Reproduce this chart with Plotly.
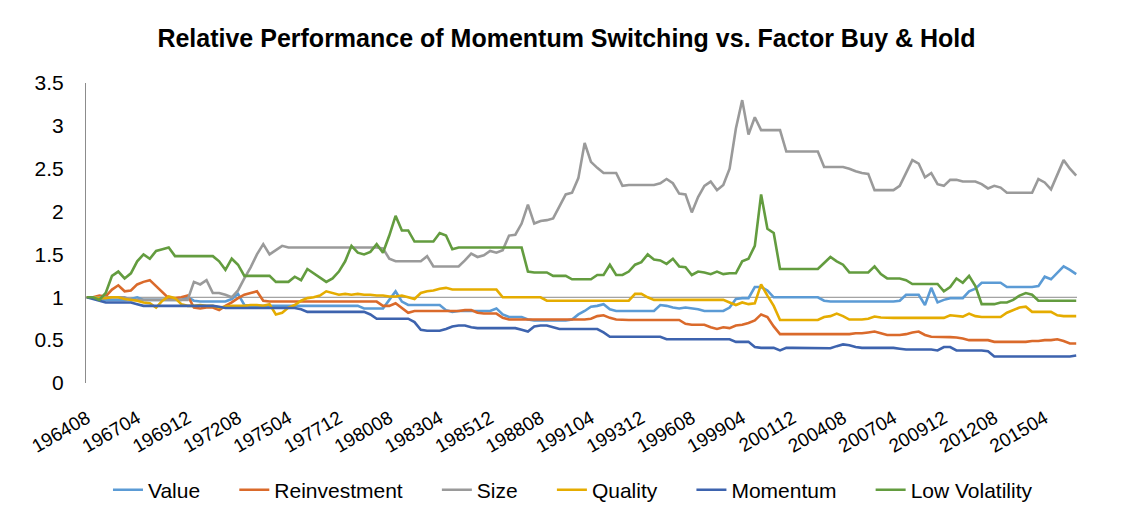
import plotly.graph_objects as go

# ---- categories (monthly, YYYYMM) ----
start_year, start_month, n_months = 1964, 8, 629
months = []
y, m = start_year, start_month
for _ in range(n_months):
    months.append(f"{y}{m:02d}")
    m += 1
    if m > 12:
        m = 1
        y += 1

# series every 4 months
sample_months = months[::4]

tick_labels = ["196408", "196704", "196912", "197208", "197504", "197712", "198008",
               "198304", "198512", "198808", "199104", "199312", "199608", "199904",
               "200112", "200408", "200704", "200912", "201208", "201504"]

value = [
    1.00, 0.99, 0.98, 0.97, 0.97, 0.97, 0.97, 0.98, 1.00, 0.97,
    0.97, 0.97, 0.97, 0.97, 0.97, 0.97, 1.00, 0.96, 0.95, 0.95,
    0.95, 0.95, 0.95, 0.98, 1.04, 0.91, 0.90, 0.90, 0.90, 0.90,
    0.90, 0.90, 0.90, 0.90, 0.90, 0.90, 0.90, 0.90, 0.90, 0.90,
    0.90, 0.90, 0.90, 0.90, 0.87, 0.87, 0.87, 0.87, 0.97, 1.07,
    0.95, 0.91, 0.91, 0.91, 0.91, 0.91, 0.91, 0.85, 0.83, 0.84,
    0.84, 0.84, 0.84, 0.84, 0.84, 0.87, 0.80, 0.77, 0.77, 0.77,
    0.74, 0.73, 0.73, 0.73, 0.73, 0.73, 0.73, 0.74, 0.80, 0.84,
    0.89, 0.90, 0.92, 0.86, 0.84, 0.84, 0.84, 0.84, 0.84, 0.84,
    0.84, 0.91, 0.90, 0.88, 0.87, 0.88, 0.87, 0.86, 0.84, 0.84,
    0.84, 0.84, 0.88, 0.98, 0.99, 0.99, 1.12, 1.12, 1.08, 1.00,
    1.00, 1.00, 1.00, 1.00, 1.00, 1.00, 1.00, 0.96, 0.95, 0.95,
    0.95, 0.95, 0.95, 0.95, 0.95, 0.95, 0.95, 0.95, 0.95, 0.96,
    1.03, 1.03, 1.03, 0.91, 1.11, 0.94, 0.97, 0.99, 0.99, 0.99,
    1.07, 1.10, 1.17, 1.17, 1.17, 1.17, 1.12, 1.12, 1.12, 1.12,
    1.12, 1.13, 1.24, 1.21, 1.29, 1.36, 1.32, 1.27]

reinvestment = [
    1.00, 1.00, 1.02, 1.01, 1.09, 1.14, 1.07, 1.08, 1.15, 1.18,
    1.20, 1.13, 1.05, 0.99, 0.99, 1.00, 1.02, 0.88, 0.87, 0.88,
    0.88, 0.85, 0.90, 0.94, 0.99, 1.03, 1.05, 1.07, 0.96, 0.95,
    0.95, 0.95, 0.95, 0.95, 0.95, 0.95, 0.95, 0.95, 0.95, 0.95,
    0.95, 0.95, 0.95, 0.95, 0.95, 0.95, 0.95, 0.90, 0.90, 0.93,
    0.87, 0.82, 0.84, 0.84, 0.84, 0.84, 0.84, 0.84, 0.84, 0.84,
    0.85, 0.85, 0.82, 0.81, 0.81, 0.81, 0.76, 0.74, 0.74, 0.74,
    0.74, 0.74, 0.74, 0.74, 0.74, 0.74, 0.74, 0.74, 0.74, 0.74,
    0.75, 0.78, 0.79, 0.76, 0.74, 0.735, 0.735, 0.735, 0.735, 0.735,
    0.735, 0.735, 0.735, 0.735, 0.735, 0.69, 0.68, 0.68, 0.68, 0.65,
    0.63, 0.65, 0.64, 0.67, 0.68, 0.70, 0.73, 0.80, 0.77, 0.66,
    0.57, 0.57, 0.57, 0.57, 0.57, 0.57, 0.57, 0.57, 0.57, 0.57,
    0.57, 0.57, 0.58, 0.58, 0.59, 0.60, 0.58, 0.56, 0.56, 0.56,
    0.57, 0.59, 0.60, 0.56, 0.54, 0.54, 0.54, 0.535, 0.53, 0.52,
    0.50, 0.50, 0.50, 0.50, 0.48, 0.48, 0.48, 0.48, 0.48, 0.48,
    0.49, 0.49, 0.50, 0.50, 0.51, 0.49, 0.46, 0.46]

size = [
    1.00, 1.00, 1.00, 1.00, 1.00, 1.00, 1.00, 0.97, 0.97, 0.97,
    0.97, 0.97, 0.97, 0.97, 0.97, 0.97, 0.97, 1.18, 1.15, 1.20,
    1.05, 1.05, 1.03, 1.00, 1.08, 1.22, 1.35, 1.50, 1.62, 1.50,
    1.55, 1.60, 1.58, 1.58, 1.58, 1.58, 1.58, 1.58, 1.58, 1.58,
    1.58, 1.58, 1.58, 1.58, 1.58, 1.58, 1.58, 1.57, 1.45, 1.42,
    1.42, 1.42, 1.42, 1.42, 1.48, 1.36, 1.36, 1.36, 1.36, 1.36,
    1.43, 1.51, 1.47, 1.49, 1.54, 1.52, 1.55, 1.72, 1.73, 1.86,
    2.08, 1.86, 1.89, 1.90, 1.92, 2.06, 2.20, 2.22, 2.39, 2.80,
    2.58, 2.51, 2.45, 2.45, 2.45, 2.30, 2.31, 2.31, 2.31, 2.31,
    2.31, 2.33, 2.38, 2.33, 2.21, 2.20, 1.99, 2.17, 2.30, 2.35,
    2.25, 2.31, 2.50, 2.97, 3.30, 2.90, 3.10, 2.95, 2.95, 2.95,
    2.95, 2.70, 2.70, 2.70, 2.70, 2.70, 2.70, 2.52, 2.52, 2.52,
    2.52, 2.50, 2.47, 2.45, 2.44, 2.25, 2.25, 2.25, 2.25, 2.30,
    2.45, 2.60, 2.56, 2.40, 2.45, 2.32, 2.30, 2.37, 2.37, 2.35,
    2.35, 2.35, 2.32, 2.27, 2.30, 2.28, 2.22, 2.22, 2.22, 2.22,
    2.22, 2.38, 2.34, 2.26, 2.42, 2.60, 2.50, 2.42]

quality = [
    1.00, 1.00, 0.99, 0.99, 1.00, 1.00, 0.98, 0.97, 0.96, 0.94,
    0.93, 0.88, 0.96, 1.01, 0.99, 0.92, 0.90, 0.90, 0.91, 0.90,
    0.90, 0.88, 0.89, 0.90, 0.90, 0.90, 0.91, 0.91, 0.90, 0.92,
    0.80, 0.82, 0.88, 0.91, 0.96, 0.99, 1.00, 1.02, 1.07, 1.05,
    1.03, 1.04, 1.03, 1.04, 1.03, 1.03, 1.02, 1.02, 1.01, 1.01,
    1.02, 1.00, 0.98, 1.05, 1.07, 1.08, 1.10, 1.11, 1.09, 1.09,
    1.09, 1.09, 1.09, 1.09, 1.09, 1.09, 1.00, 1.00, 1.00, 1.00,
    1.00, 1.00, 1.00, 0.96, 0.96, 0.96, 0.96, 0.96, 0.96, 0.96,
    0.96, 0.96, 0.96, 0.96, 0.96, 0.96, 0.96, 1.04, 1.04, 1.00,
    0.97, 0.97, 0.97, 0.97, 0.97, 0.97, 0.97, 0.97, 0.97, 0.97,
    0.97, 0.97, 0.94, 0.91, 0.94, 0.92, 0.93, 1.15, 1.02, 0.90,
    0.735, 0.735, 0.735, 0.735, 0.735, 0.735, 0.735, 0.77, 0.78, 0.81,
    0.78, 0.74, 0.74, 0.74, 0.75, 0.775, 0.765, 0.76, 0.76, 0.76,
    0.76, 0.76, 0.76, 0.76, 0.76, 0.76, 0.76, 0.79, 0.78, 0.775,
    0.81, 0.78, 0.77, 0.77, 0.77, 0.77, 0.82, 0.85, 0.88, 0.89,
    0.83, 0.83, 0.83, 0.83, 0.79, 0.78, 0.78, 0.78]

momentum = [
    1.00, 0.98, 0.96, 0.94, 0.94, 0.94, 0.94, 0.94, 0.92, 0.90,
    0.90, 0.90, 0.90, 0.90, 0.90, 0.90, 0.90, 0.90, 0.90, 0.90,
    0.90, 0.89, 0.875, 0.875, 0.875, 0.875, 0.875, 0.875, 0.875, 0.875,
    0.875, 0.875, 0.875, 0.875, 0.86, 0.83, 0.83, 0.83, 0.83, 0.83,
    0.83, 0.83, 0.83, 0.83, 0.83, 0.80, 0.75, 0.75, 0.75, 0.75,
    0.75, 0.75, 0.71, 0.62, 0.61, 0.61, 0.61, 0.63, 0.66, 0.67,
    0.67, 0.65, 0.64, 0.64, 0.64, 0.64, 0.64, 0.64, 0.64, 0.62,
    0.60, 0.66, 0.67, 0.67, 0.65, 0.63, 0.63, 0.63, 0.63, 0.63,
    0.63, 0.63, 0.59, 0.54, 0.54, 0.54, 0.54, 0.54, 0.54, 0.54,
    0.54, 0.54, 0.51, 0.51, 0.51, 0.51, 0.51, 0.51, 0.51, 0.51,
    0.51, 0.51, 0.51, 0.48, 0.48, 0.48, 0.42, 0.41, 0.41, 0.41,
    0.38, 0.41, 0.41, 0.41, 0.41, 0.41, 0.41, 0.41, 0.405, 0.43,
    0.45, 0.44, 0.42, 0.41, 0.41, 0.41, 0.41, 0.41, 0.41, 0.40,
    0.39, 0.39, 0.39, 0.39, 0.39, 0.38, 0.42, 0.42, 0.38, 0.38,
    0.38, 0.38, 0.38, 0.37, 0.31, 0.31, 0.31, 0.31, 0.31, 0.31,
    0.31, 0.31, 0.31, 0.31, 0.31, 0.31, 0.31, 0.32]

low_volatility = [
    1.00, 1.00, 0.97, 1.05, 1.25, 1.30, 1.22, 1.28, 1.42, 1.50,
    1.45, 1.54, 1.56, 1.58, 1.48, 1.48, 1.48, 1.48, 1.48, 1.48,
    1.48, 1.42, 1.32, 1.45, 1.38, 1.25, 1.25, 1.25, 1.25, 1.25,
    1.18, 1.18, 1.18, 1.24, 1.20, 1.33, 1.28, 1.22, 1.18, 1.22,
    1.30, 1.42, 1.60, 1.52, 1.50, 1.53, 1.62, 1.52, 1.72, 1.95,
    1.78, 1.78, 1.65, 1.65, 1.65, 1.65, 1.75, 1.72, 1.56, 1.58,
    1.58, 1.58, 1.58, 1.58, 1.58, 1.58, 1.58, 1.58, 1.58, 1.58,
    1.30, 1.29, 1.29, 1.29, 1.25, 1.25, 1.25, 1.21, 1.21, 1.21,
    1.21, 1.26, 1.26, 1.38, 1.26, 1.26, 1.30, 1.38, 1.41, 1.50,
    1.44, 1.43, 1.39, 1.45, 1.36, 1.35, 1.26, 1.30, 1.29, 1.27,
    1.30, 1.27, 1.28, 1.28, 1.42, 1.45, 1.60, 2.20, 1.80, 1.75,
    1.33, 1.33, 1.33, 1.33, 1.33, 1.33, 1.33, 1.40, 1.47, 1.42,
    1.38, 1.29, 1.29, 1.29, 1.29, 1.36, 1.27, 1.22, 1.22, 1.22,
    1.20, 1.155, 1.155, 1.155, 1.155, 1.155, 1.07, 1.12, 1.22, 1.17,
    1.25, 1.13, 0.92, 0.92, 0.92, 0.94, 0.94, 0.97, 1.02, 1.05,
    1.03, 0.96, 0.96, 0.96, 0.96, 0.96, 0.96, 0.96]

series_names = ["Value", "Reinvestment", "Size", "Quality", "Momentum", "Low Volatility"]
series_values = [value, reinvestment, size, quality, momentum, low_volatility]
series_colors = ["#5B9BD5", "#DA6A2B", "#9A9A9A", "#E5AC00", "#3D63AE", "#639C3F"]

FONT = "Liberation Sans, Arial, Helvetica, sans-serif"
GAP = "\u00a0" * 5  # extra room after legend entries, as in the reference

# the page adds an 8px body margin; figure is sized so the plot lands where the reference has it
W, H = 1117, 517

fig = go.Figure()
for i, (name, vals, col) in enumerate(zip(series_names, series_values, series_colors)):
    label = name + (GAP if i < len(series_names) - 1 else "")
    fig.add_trace(go.Scatter(
        x=sample_months, y=vals, mode="lines", name=label,
        line=dict(color=col, width=2.6),
    ))

# horizontal axis crossing at 1
fig.add_shape(type="line", xref="paper", yref="y", x0=0, x1=1, y0=1, y1=1,
              line=dict(color="#8C8C8C", width=1), layer="below")

fig.update_layout(
    width=W, height=H,
    margin=dict(l=78, r=48, t=75, b=142, pad=0),
    paper_bgcolor="white", plot_bgcolor="white",
    font=dict(family=FONT, color="#000000"),
    title=dict(text="<b>Relative Performance of Momentum Switching vs. Factor Buy & Hold</b>",
               x=0.5, xanchor="center", y=1 - 30 / H, yanchor="middle",
               font=dict(size=25, family=FONT, color="#000000")),
    showlegend=True,
    legend=dict(orientation="h", x=0.4914, xanchor="center", y=-0.357, yanchor="middle",
                font=dict(size=21, family=FONT), itemwidth=30, traceorder="normal"),
    xaxis=dict(type="category", categoryorder="array", categoryarray=months,
               range=[-0.5, n_months - 0.5],
               tickmode="array", tickvals=tick_labels, ticktext=tick_labels,
               tickangle=-30, tickfont=dict(size=19, family=FONT),
               showgrid=False, zeroline=False, showline=False,
               ticks="outside", ticklen=16, tickcolor="rgba(0,0,0,0)"),
    yaxis=dict(range=[0, 3.5], dtick=0.5, tick0=0, showgrid=False, zeroline=False,
               showline=True, linecolor="#8C8C8C", linewidth=1,
               tickfont=dict(size=21, family=FONT),
               ticks="outside", ticklen=17, tickcolor="rgba(0,0,0,0)"),
)

fig.write_html("out.html")
